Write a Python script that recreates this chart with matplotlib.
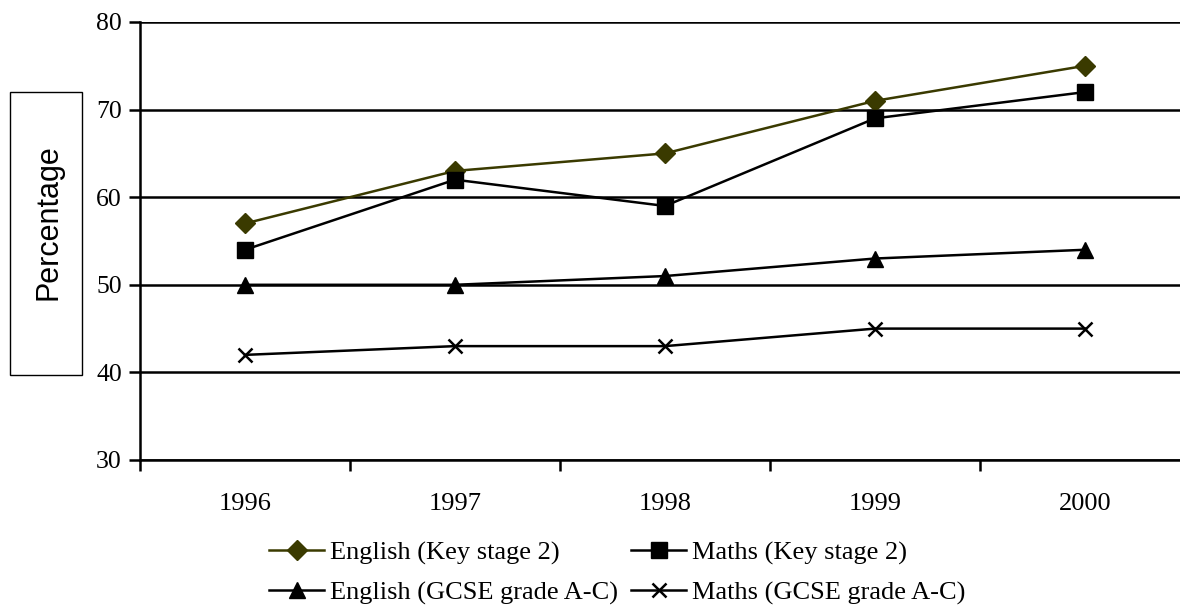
import matplotlib
matplotlib.use("Agg")
import matplotlib.pyplot as plt
from matplotlib.patches import Rectangle

years = ["1996", "1997", "1998", "1999", "2000"]
eng_ks2 = [57, 63, 65, 71, 75]
maths_ks2 = [54, 62, 59, 69, 72]
eng_gcse = [50, 50, 51, 53, 54]
maths_gcse = [42, 43, 43, 45, 45]

serif = "Liberation Serif"
olive = "#3a3a00"
W, H = 1180, 606

fig = plt.figure(figsize=(W / 100, H / 100), dpi=100)
ax = fig.add_axes([140 / W, 146 / H, 1050 / W, 438 / H])

x = range(len(years))
l1, = ax.plot(x, eng_ks2, color=olive, marker="D", markersize=10, lw=1.8, label="English (Key stage 2)")
l2, = ax.plot(x, maths_ks2, color="black", marker="s", markersize=11, lw=1.8, label="Maths (Key stage 2)")
l3, = ax.plot(x, eng_gcse, color="black", marker="^", markersize=11, lw=1.8, label="English (GCSE grade A-C)")
l4, = ax.plot(x, maths_gcse, color="black", marker="x", markersize=10, mew=1.8, lw=1.8, label="Maths (GCSE grade A-C)")

ax.set_xlim(-0.5, len(years) - 0.5)
ax.set_ylim(30, 80)
ax.set_yticks(range(30, 81, 10))
ax.yaxis.grid(True, color="black", lw=1.8)
ax.set_axisbelow(True)

# category axis: ticks between categories, labels centred
ax.set_xticks([i - 0.5 for i in range(len(years) + 1)])
ax.set_xticklabels([])
ax.set_xticks(list(x), minor=True)
ax.set_xticklabels(years, minor=True, fontsize=19, family=serif)
ax.tick_params(axis="x", which="minor", length=0, pad=24)
ax.tick_params(axis="x", which="major", direction="out", length=8, width=1.8)
ax.tick_params(axis="y", direction="out", length=8, width=1.8, labelsize=18.5, pad=5)
for lab in ax.get_yticklabels():
    lab.set_family(serif)

for s in ["top", "right"]:
    ax.spines[s].set_visible(False)
for s in ["left", "bottom"]:
    ax.spines[s].set_linewidth(1.8)

# boxed y label
fig.patches.append(Rectangle((10 / W, 1 - 375 / H), 72 / W, 283 / H, transform=fig.transFigure,
                             fc="white", ec="black", lw=1))
fig.text(48 / W, 1 - 222 / H, "Percentage", rotation=90, ha="center", va="center",
         fontsize=22, family="Liberation Sans")

fig.legend([l1, l3, l2, l4], [l1.get_label(), l3.get_label(), l2.get_label(), l4.get_label()],
           loc="center", bbox_to_anchor=(617 / W, 1 - 573 / H), ncol=2,
           frameon=False, prop={"family": serif, "size": 19},
           handlelength=2.1, handletextpad=0.2, columnspacing=0.5, labelspacing=0.62)

fig.savefig("out.png", dpi=100)
